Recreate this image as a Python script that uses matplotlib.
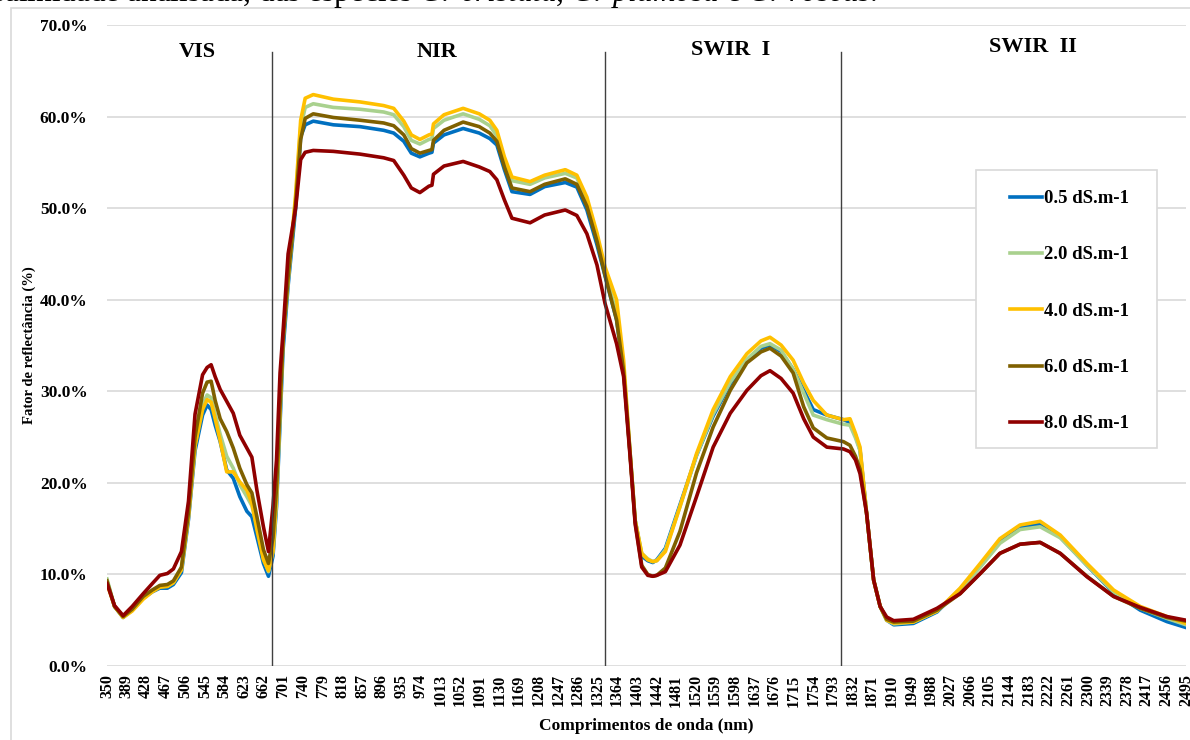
import matplotlib
matplotlib.use("Agg")
import matplotlib.pyplot as plt
from matplotlib.patches import Rectangle

plt.rcParams['font.family'] = ['Liberation Serif', 'DejaVu Serif']
plt.rcParams['font.weight'] = 'bold'
plt.rcParams['mathtext.fontset'] = 'custom'
plt.rcParams['mathtext.it'] = 'Liberation Serif:style=italic:weight=normal'
plt.rcParams['mathtext.rm'] = 'Liberation Serif:weight=normal'

# wavelengths (nm) where the curves were read
wl = [350, 365, 382, 400, 422, 440, 455, 470, 482, 498, 512, 525, 540, 549, 557, 565,
      575, 588, 601, 614, 628, 638, 648, 661, 671, 680, 687, 694, 700, 710, 725, 735,
      744, 760, 800, 853, 900, 920, 940, 955, 972, 990, 996, 999, 1020, 1058, 1090, 1111,
      1125, 1140, 1155, 1191, 1220, 1261, 1284, 1304, 1324, 1340, 1363, 1377, 1390, 1400,
      1413, 1425, 1435, 1443, 1460, 1489, 1522, 1555, 1589, 1622, 1650, 1668, 1690, 1714,
      1735, 1754, 1781, 1814, 1827, 1838, 1847, 1860, 1874, 1887, 1900, 1914, 1953, 2000,
      2046, 2086, 2125, 2165, 2205, 2245, 2298, 2351, 2404, 2457, 2495]

# reflectance (%) per salinity level
s05 = [9.2, 6.5, 5.3, 6.1, 7.4, 8.1, 8.5, 8.5, 8.9, 10.2, 16.0, 23.5, 27.4, 28.5, 28.0, 26.3,
       24.5, 21.4, 20.5, 18.5, 16.9, 16.3, 14.1, 11.2, 9.8, 12.0, 17.4, 26.5, 34.5, 41.5, 50.0, 57.8,
       59.1, 59.5, 59.1, 58.9, 58.5, 58.2, 57.3, 56.0, 55.6, 56.0, 56.1, 57.1, 58.0, 58.7, 58.2, 57.6,
       56.9, 54.2, 51.8, 51.5, 52.35, 52.8, 52.3, 49.8, 46.0, 42.6, 37.8, 32.2, 23.2, 15.9,
       12.0, 11.5, 11.3, 11.6, 12.85, 17.6, 23.0, 27.3, 30.8, 33.3, 34.7, 35.05, 34.35, 32.4,
       30.1, 28.0, 27.4, 26.9, 26.6, 25.2, 23.6, 16.7, 9.4, 6.5, 5.0, 4.5, 4.65, 5.9,
       8.4, 11.0, 13.7, 15.2, 15.5, 14.1, 11.0, 8.0, 6.1, 4.85, 4.2]
s20 = [9.5, 6.5, 5.4, 6.1, 7.4, 8.2, 8.7, 8.7, 9.1, 10.6, 16.5, 24.2, 28.5, 29.6, 29.3, 27.5,
       25.3, 22.9, 21.6, 19.8, 18.5, 17.5, 15.3, 11.8, 10.3, 12.5, 18.0, 27.5, 35.5, 42.0, 51.0, 58.8,
       61.0, 61.4, 61.0, 60.8, 60.5, 60.2, 58.9, 57.4, 57.0, 57.5, 57.6, 58.7, 59.6, 60.3, 59.7, 59.0,
       57.9, 55.0, 53.0, 52.6, 53.3, 53.8, 53.3, 50.8, 47.0, 43.0, 38.5, 32.5, 23.2, 15.9,
       12.3, 11.7, 11.4, 11.5, 12.7, 17.4, 23.0, 27.5, 31.0, 33.5, 34.9, 35.2, 34.5, 32.4,
       29.8, 27.4, 26.9, 26.4, 26.3, 24.9, 23.5, 16.7, 9.4, 6.5, 5.0, 4.6, 4.8, 6.0,
       8.3, 10.8, 13.4, 14.9, 15.2, 14.0, 11.0, 8.1, 6.3, 5.2, 4.5]
s40 = [9.0, 6.5, 5.3, 6.0, 7.3, 8.1, 8.6, 8.7, 9.1, 10.5, 16.3, 24.0, 28.0, 29.1, 28.8, 27.0,
       24.6, 21.2, 21.2, 20.1, 19.2, 17.8, 14.9, 11.6, 10.4, 12.5, 18.5, 28.0, 36.0, 42.2, 51.5, 59.6,
       62.0, 62.4, 61.9, 61.6, 61.2, 60.9, 59.5, 58.0, 57.5, 58.0, 58.1, 59.2, 60.2, 60.9, 60.3, 59.6,
       58.5, 55.6, 53.4, 52.9, 53.6, 54.2, 53.6, 51.2, 47.3, 43.6, 40.0, 33.4, 23.2, 15.9,
       12.3, 11.6, 11.4, 11.5, 12.5, 17.4, 23.2, 28.0, 31.6, 34.1, 35.5, 35.9, 35.05, 33.4,
       30.9, 29.0, 27.4, 26.9, 27.0, 25.4, 23.9, 16.7, 9.4, 6.5, 5.0, 4.7, 4.8, 6.0,
       8.5, 11.2, 13.9, 15.4, 15.8, 14.3, 11.2, 8.3, 6.5, 5.4, 4.65]
s60 = [9.3, 6.5, 5.4, 6.2, 7.6, 8.3, 8.8, 8.9, 9.3, 10.8, 16.8, 25.0, 29.8, 31.0, 31.1, 29.0,
       27.0, 25.6, 23.8, 21.6, 19.8, 18.9, 16.3, 12.7, 11.2, 14.0, 19.5, 28.5, 35.5, 42.5, 50.5, 57.5,
       59.8, 60.3, 59.9, 59.6, 59.3, 59.0, 58.0, 56.5, 56.0, 56.3, 56.4, 57.4, 58.5, 59.4, 58.9, 58.2,
       57.3, 54.5, 52.2, 51.8, 52.6, 53.2, 52.6, 50.2, 46.4, 42.7, 37.8, 32.2, 23.0, 15.7,
       11.0, 10.0, 9.8, 9.9, 10.7, 14.7, 21.1, 26.1, 30.1, 33.1, 34.3, 34.7, 33.85, 32.0,
       28.3, 26.0, 24.9, 24.5, 24.1, 22.9, 21.5, 16.7, 9.4, 6.5, 5.1, 4.8, 4.9, 6.1,
       7.9, 10.1, 12.3, 13.3, 13.5, 12.3, 9.8, 7.6, 6.3, 5.3, 4.9]
s80 = [9.0, 6.6, 5.5, 6.5, 7.9, 9.0, 9.9, 10.1, 10.6, 12.5, 18.0, 27.5, 31.8, 32.6, 32.9, 31.6,
       30.2, 28.9, 27.6, 25.2, 23.8, 22.8, 19.2, 15.2, 12.5, 17.5, 22.5, 32.0, 36.5, 45.0, 50.0, 55.3,
       56.1, 56.3, 56.2, 55.9, 55.5, 55.2, 53.6, 52.2, 51.7, 52.4, 52.5, 53.7, 54.6, 55.1, 54.5, 54.0,
       53.1, 50.9, 48.9, 48.4, 49.25, 49.8, 49.2, 47.2, 43.8, 39.6, 35.2, 31.6, 22.8, 15.5,
       10.8, 9.9, 9.8, 9.9, 10.3, 13.2, 18.5, 23.9, 27.6, 30.1, 31.7, 32.25, 31.4, 29.8,
       27.0, 25.0, 23.9, 23.7, 23.4, 22.5, 21.0, 16.7, 9.4, 6.5, 5.35, 4.95, 5.1, 6.3,
       7.9, 10.1, 12.3, 13.3, 13.5, 12.3, 9.75, 7.6, 6.4, 5.4, 5.0]

labels = ['0.5 dS.m-1', '2.0 dS.m-1', '4.0 dS.m-1', '6.0 dS.m-1', '8.0 dS.m-1']
colors = ['#0070C0', '#A9D18E', '#FFC000', '#7F6000', '#900000']

regions = ['VIS', 'NIR', 'SWIR  I', 'SWIR  II']
region_pos = [529, 1006, 1589, 2191]
region_y = [67.1, 67.1, 67.3, 67.6]
boundaries = [678, 1340, 1810]

x_ticks = list(range(350, 2496, 39))
y_ticks = [0, 10, 20, 30, 40, 50, 60, 70]

W, H = 1190, 740
fig = plt.figure(figsize=(W / 100, H / 100), dpi=100)
ax = fig.add_axes([107 / W, 1 - 666 / H, 1079 / W, 641 / H])

# outer chart frame
fig.patches.append(Rectangle((11 / W, -0.1), 1.2, 1 - 8 / H + 0.1,
                             transform=fig.transFigure, fill=False,
                             edgecolor='#D9D9D9', lw=1.2))

for ys, lab, col in zip([s05, s20, s40, s60, s80], labels, colors):
    ax.plot(wl, ys, color=col, lw=2.6, label=lab, solid_joinstyle='round')

for b in boundaries:
    ax.plot([b, b], [0, 67.0], color='#404040', lw=1.0)

for name, xp, yp in zip(regions, region_pos, region_y):
    ax.text(xp, yp, name, ha='center', va='center', fontsize=16, fontweight='bold')

ax.set_xlim(350, 2495)
ax.set_ylim(0, 70)
ax.set_yticks(y_ticks)
ax.set_yticklabels([f'{v:.1f}%' for v in y_ticks], fontsize=12.5, fontweight='bold')
ax.set_xticks(x_ticks)
ax.set_xticklabels([str(v) for v in x_ticks], rotation=90, fontsize=11.5, fontweight='bold')
ax.tick_params(axis='y', length=0, pad=14)
ax.tick_params(axis='x', length=0, pad=6)
ax.grid(axis='y', color='#D9D9D9', lw=1.2)
ax.set_axisbelow(True)
for s in ax.spines.values():
    s.set_visible(False)

ax.set_xlabel('Comprimentos de onda (nm)', fontsize=12.5, fontweight='bold', labelpad=8)
ax.set_ylabel('Fator de reflectância (%)', fontsize=10.5, fontweight='bold')
ax.yaxis.set_label_coords((36 - 107) / 1079, 0.5)

# legend with its own frame (Excel-style wide box)
box = Rectangle((976 / W, 1 - 448 / H), 181 / W, 278 / H,
                transform=fig.transFigure, facecolor='white',
                edgecolor='#D9D9D9', lw=1.2, zorder=4, clip_on=False)
ax.add_patch(box)
leg = ax.legend(loc='upper left', bbox_to_anchor=(1010 / W, 1 - 190 / H),
                bbox_transform=fig.transFigure, fontsize=13.5, frameon=False,
                labelspacing=2.09, handlelength=1.7, handletextpad=0.1,
                borderpad=0, borderaxespad=0)
leg.set_zorder(5)
for t in leg.get_texts():
    t.set_fontweight('bold')

fig.text(878 / W, 1 - 1 / H,
         r'salinidade analisada, das espécies $\mathit{C.\ cristata}$, '
         r'$\mathit{C.\ plumosa}$ e $\mathit{C.\ roseus}$.',
         ha='right', va='baseline', fontsize=22.5, fontweight='normal')

fig.savefig('out.png', dpi=100)
